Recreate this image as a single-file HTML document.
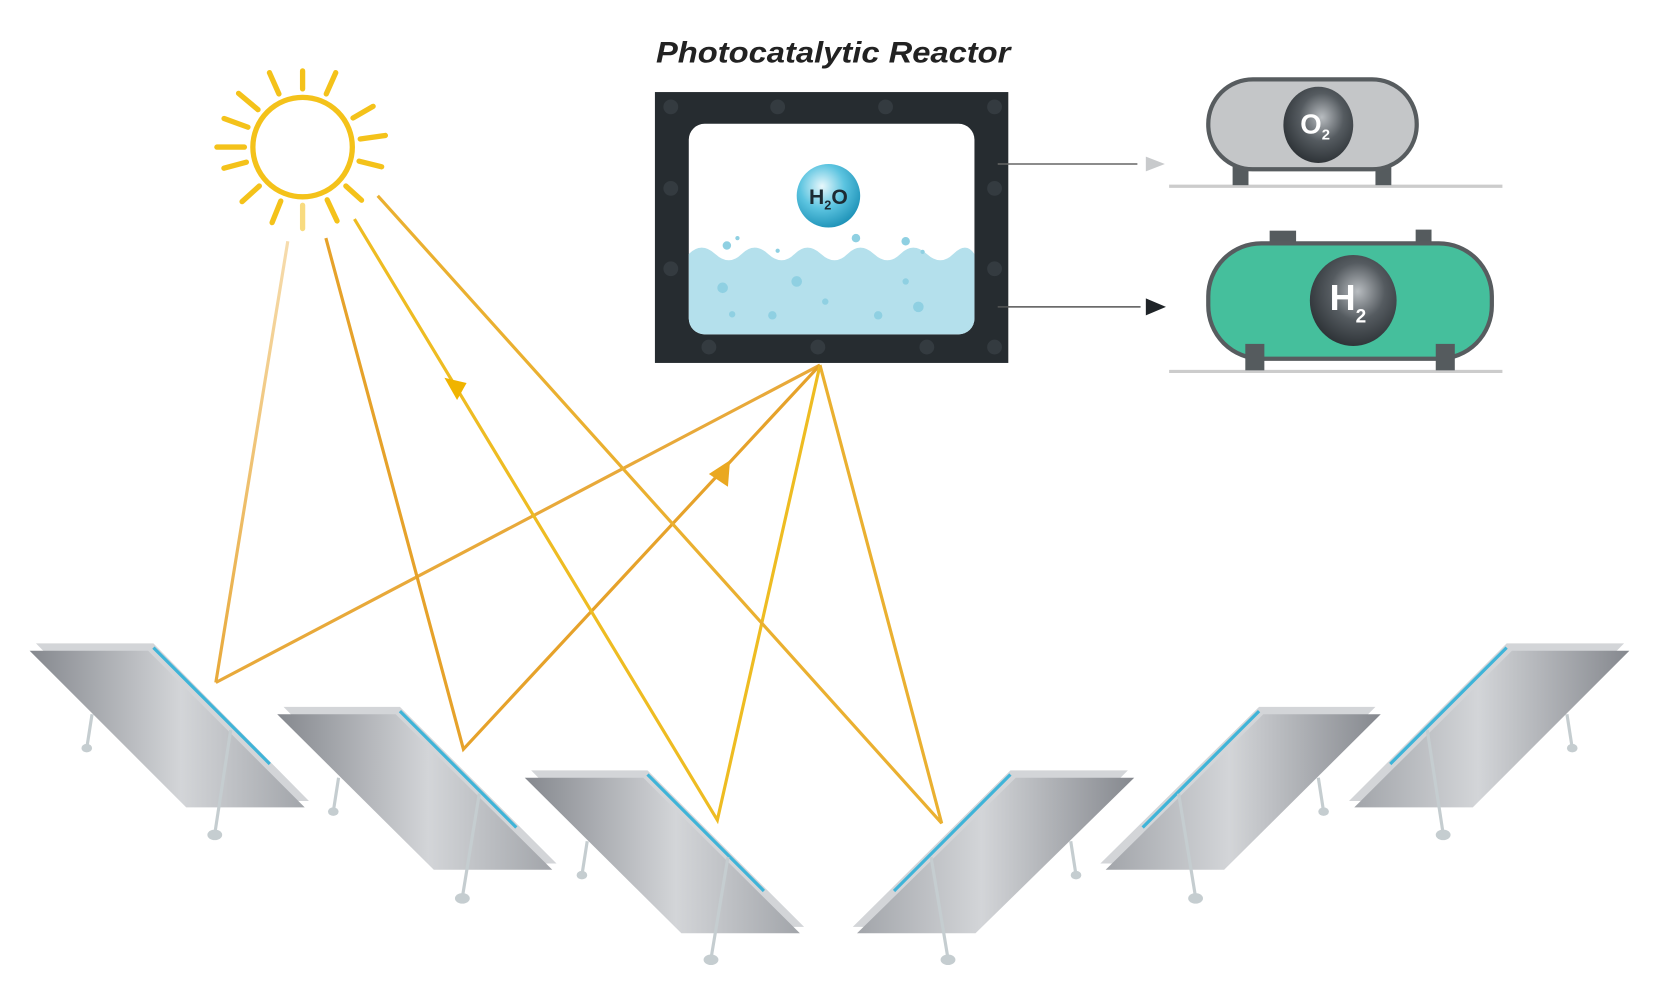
<!DOCTYPE html>
<html><head><meta charset="utf-8"><style>
html,body{margin:0;padding:0;background:#fff;width:1659px;height:1001px;overflow:hidden}
svg{display:block}
</style></head><body>
<svg width="1659" height="1001" viewBox="0 0 1568 946" preserveAspectRatio="none" xmlns="http://www.w3.org/2000/svg">
<defs>
<linearGradient id="pg" x1="0" y1="0" x2="1" y2="0">
<stop offset="0" stop-color="#85888e"/><stop offset="0.55" stop-color="#d3d5d8"/><stop offset="1" stop-color="#a2a5aa"/>
</linearGradient>
<linearGradient id="pg2" x1="1" y1="0" x2="0" y2="0">
<stop offset="0" stop-color="#85888e"/><stop offset="0.55" stop-color="#d3d5d8"/><stop offset="1" stop-color="#a2a5aa"/>
</linearGradient>
<radialGradient id="h2o" cx="0.4" cy="0.35" r="0.7"><stop offset="0" stop-color="#e8f8fc"/><stop offset="0.5" stop-color="#5cc4e0"/><stop offset="1" stop-color="#1a8fb5"/></radialGradient>
<radialGradient id="dk" cx="0.55" cy="0.4" r="0.7"><stop offset="0" stop-color="#b8bcc0"/><stop offset="0.45" stop-color="#555b60"/><stop offset="1" stop-color="#22272b"/></radialGradient>
<linearGradient id="r1" x1="0" y1="0" x2="0" y2="1"><stop offset="0" stop-color="#f6dcae"/><stop offset="1" stop-color="#e8a93a"/></linearGradient>
</defs>

<!-- sun -->
<g stroke="#f4c21a" stroke-linecap="round" fill="none">
<circle cx="286" cy="139" r="47" stroke-width="5"/>
<g stroke-width="5">
<line x1="286" y1="84" x2="286" y2="67" transform="rotate(0 286 139)"/>
<line x1="286" y1="84" x2="286" y2="62" transform="rotate(24 286 139)"/>
<line x1="286" y1="84" x2="286" y2="62" transform="rotate(-24 286 139)"/>
<line x1="286" y1="84" x2="286" y2="60" transform="rotate(-50 286 139)"/>
<line x1="286" y1="84" x2="286" y2="62" transform="rotate(60 286 139)"/>
<line x1="286" y1="84" x2="286" y2="60" transform="rotate(-70 286 139)"/>
<line x1="286" y1="84" x2="286" y2="60" transform="rotate(82 286 139)"/>
<line x1="286" y1="84" x2="286" y2="58" transform="rotate(-90 286 139)"/>
<line x1="286" y1="84" x2="286" y2="62" transform="rotate(104 286 139)"/>
<line x1="286" y1="84" x2="286" y2="62" transform="rotate(-105 286 139)"/>
<line x1="286" y1="84" x2="286" y2="64" transform="rotate(132 286 139)"/>
<line x1="286" y1="84" x2="286" y2="62" transform="rotate(-132 286 139)"/>
<line x1="286" y1="84" x2="286" y2="62" transform="rotate(155 286 139)"/>
<line x1="286" y1="84" x2="286" y2="62" transform="rotate(-158 286 139)"/>
<line x1="286" y1="84" x2="286" y2="62" transform="rotate(180 286 139)" stroke="#f8db80"/>
</g></g>

<!-- title -->
<text x="620" y="59" textLength="335" lengthAdjust="spacingAndGlyphs" font-family="Liberation Sans, sans-serif" font-size="28" font-weight="bold" font-style="italic" fill="#222">Photocatalytic Reactor</text>

<!-- panels left -->
<g>
<polygon points="34,608 145,608 292,757 180,757" fill="#d3d5d8"/>
<polygon points="28,615 140,615 288,763 176,763" fill="url(#pg)"/>
<line x1="145" y1="612" x2="255" y2="722" stroke="#3fb4d8" stroke-width="3"/>
<line x1="87" y1="675" x2="82" y2="707" stroke="#c5cdd0" stroke-width="3"/><ellipse cx="82" cy="707" rx="5" ry="4" fill="#c5cdd0"/>
<line x1="218" y1="690" x2="203" y2="788" stroke="#c5cdd0" stroke-width="3"/><ellipse cx="203" cy="789" rx="7" ry="5" fill="#c5cdd0"/>

<polygon points="268,668 378,668 526,816 414,816" fill="#d3d5d8"/>
<polygon points="262,675 374,675 522,822 410,822" fill="url(#pg)"/>
<line x1="378" y1="672" x2="488" y2="782" stroke="#3fb4d8" stroke-width="3"/>
<line x1="320" y1="735" x2="315" y2="767" stroke="#c5cdd0" stroke-width="3"/><ellipse cx="315" cy="767" rx="5" ry="4" fill="#c5cdd0"/>
<line x1="453" y1="750" x2="437" y2="848" stroke="#c5cdd0" stroke-width="3"/><ellipse cx="437" cy="849" rx="7" ry="5" fill="#c5cdd0"/>

<polygon points="502,728 612,728 760,876 648,876" fill="#d3d5d8"/>
<polygon points="496,735 608,735 756,882 644,882" fill="url(#pg)"/>
<line x1="612" y1="732" x2="722" y2="842" stroke="#3fb4d8" stroke-width="3"/>
<line x1="555" y1="795" x2="550" y2="827" stroke="#c5cdd0" stroke-width="3"/><ellipse cx="550" cy="827" rx="5" ry="4" fill="#c5cdd0"/>
<line x1="688" y1="810" x2="672" y2="906" stroke="#c5cdd0" stroke-width="3"/><ellipse cx="672" cy="907" rx="7" ry="5" fill="#c5cdd0"/>
</g>
<!-- panels right -->
<g>
<polygon points="955,728 1066,728 918,876 806,876" fill="#d3d5d8"/>
<polygon points="960,735 1072,735 922,882 810,882" fill="url(#pg2)"/>
<line x1="955" y1="732" x2="845" y2="842" stroke="#3fb4d8" stroke-width="3"/>
<line x1="1012" y1="795" x2="1017" y2="827" stroke="#c5cdd0" stroke-width="3"/><ellipse cx="1017" cy="827" rx="5" ry="4" fill="#c5cdd0"/>
<line x1="880" y1="810" x2="896" y2="906" stroke="#c5cdd0" stroke-width="3"/><ellipse cx="896" cy="907" rx="7" ry="5" fill="#c5cdd0"/>

<polygon points="1190,668 1300,668 1152,816 1040,816" fill="#d3d5d8"/>
<polygon points="1194,675 1305,675 1157,822 1045,822" fill="url(#pg2)"/>
<line x1="1190" y1="672" x2="1080" y2="782" stroke="#3fb4d8" stroke-width="3"/>
<line x1="1246" y1="735" x2="1251" y2="767" stroke="#c5cdd0" stroke-width="3"/><ellipse cx="1251" cy="767" rx="5" ry="4" fill="#c5cdd0"/>
<line x1="1114" y1="750" x2="1130" y2="848" stroke="#c5cdd0" stroke-width="3"/><ellipse cx="1130" cy="849" rx="7" ry="5" fill="#c5cdd0"/>

<polygon points="1424,608 1535,608 1387,757 1275,757" fill="#d3d5d8"/>
<polygon points="1429,615 1540,615 1392,763 1280,763" fill="url(#pg2)"/>
<line x1="1424" y1="612" x2="1314" y2="722" stroke="#3fb4d8" stroke-width="3"/>
<line x1="1481" y1="675" x2="1486" y2="707" stroke="#c5cdd0" stroke-width="3"/><ellipse cx="1486" cy="707" rx="5" ry="4" fill="#c5cdd0"/>
<line x1="1349" y1="690" x2="1364" y2="788" stroke="#c5cdd0" stroke-width="3"/><ellipse cx="1364" cy="789" rx="7" ry="5" fill="#c5cdd0"/>
</g>

<!-- rays -->
<g fill="none" stroke-width="3" stroke-linejoin="miter">
<polyline points="272,228 204,645" stroke="url(#r1)"/>
<polyline points="204,645 775,345" stroke="#e8a93a"/>
<polyline points="308,225 438,708 775,345" stroke="#e6a22a"/>
<polyline points="335,207 678,775 775,345" stroke="#eebc22"/>
<polyline points="357,185 890,778 775,345" stroke="#eab030"/>
</g>
<polygon points="420,357 441,362 432,378" fill="#f0b400"/>
<polygon points="690,435 670,448 688,460" fill="#eaa820"/>

<!-- reactor -->
<rect x="619" y="87" width="334" height="256" fill="#262c30"/>
<g fill="#343b40">
<circle cx="634" cy="101" r="7"/><circle cx="735" cy="101" r="7"/><circle cx="837" cy="101" r="7"/><circle cx="940" cy="101" r="7"/>
<circle cx="634" cy="178" r="7"/><circle cx="940" cy="178" r="7"/><circle cx="634" cy="254" r="7"/><circle cx="940" cy="254" r="7"/>
<circle cx="670" cy="328" r="7"/><circle cx="773" cy="328" r="7"/><circle cx="876" cy="328" r="7"/><circle cx="940" cy="328" r="7"/>
</g>
<rect x="651" y="117" width="270" height="199" rx="15" fill="#fff"/>
<path d="M651,240 q12,-12 25,0 t25,0 t25,0 t25,0 t25,0 t25,0 t25,0 t25,0 t25,0 t25,0 t20,0 V301 a15,15 0 0 1 -15,15 H666 a15,15 0 0 1 -15,-15 Z" fill="#b4e0ec"/>
<g fill="#8fd0e2">
<circle cx="683" cy="272" r="5"/><circle cx="753" cy="266" r="5"/><circle cx="730" cy="298" r="4"/><circle cx="856" cy="266" r="3"/><circle cx="868" cy="290" r="5"/><circle cx="692" cy="297" r="3"/><circle cx="830" cy="298" r="4"/><circle cx="780" cy="285" r="3"/>
<circle cx="809" cy="225" r="4"/><circle cx="856" cy="228" r="4"/><circle cx="687" cy="232" r="4"/><circle cx="735" cy="237" r="2"/><circle cx="697" cy="225" r="2"/><circle cx="872" cy="238" r="2"/>
</g>
<circle cx="783" cy="185" r="30" fill="url(#h2o)"/>
<text x="783" y="193" text-anchor="middle" font-family="Liberation Sans, sans-serif" font-size="20" font-weight="bold" fill="#1d2b33">H<tspan font-size="12" dy="5">2</tspan><tspan dy="-5">O</tspan></text>

<!-- arrows -->
<line x1="943" y1="155" x2="1075" y2="155" stroke="#666" stroke-width="1.5"/>
<polygon points="1083,148 1101,155 1083,162" fill="#c8cacc"/>
<line x1="943" y1="290" x2="1078" y2="290" stroke="#555" stroke-width="1.5"/>
<polygon points="1083,282 1102,290 1083,298" fill="#1f2428"/>

<!-- O2 tank -->
<line x1="1105" y1="176" x2="1420" y2="176" stroke="#ccc" stroke-width="3"/>
<rect x="1165" y="156" width="15" height="19" fill="#555b5e"/><rect x="1300" y="156" width="15" height="19" fill="#555b5e"/>
<rect x="1142" y="75" width="197" height="85" rx="42" fill="#c4c6c8" stroke="#575c5f" stroke-width="4"/>
<ellipse cx="1246" cy="118" rx="33" ry="36" fill="url(#dk)"/>
<text x="1243" y="126" text-anchor="middle" font-family="Liberation Sans, sans-serif" font-size="26" fill="#fff" font-weight="bold">O<tspan font-size="14" dy="6">2</tspan></text>

<!-- H2 tank -->
<line x1="1105" y1="351" x2="1420" y2="351" stroke="#ccc" stroke-width="3"/>
<rect x="1200" y="218" width="25" height="18" fill="#555b5e"/><rect x="1338" y="217" width="15" height="18" fill="#555b5e"/>
<rect x="1142" y="230" width="268" height="109" rx="50" fill="#45bf9c" stroke="#575c5f" stroke-width="4"/>
<rect x="1177" y="325" width="18" height="25" fill="#555b5e"/><rect x="1357" y="325" width="18" height="25" fill="#555b5e"/>
<ellipse cx="1279" cy="284" rx="41" ry="43" fill="url(#dk)"/>
<text x="1274" y="293" text-anchor="middle" font-family="Liberation Sans, sans-serif" font-size="34" fill="#fff" font-weight="bold">H<tspan font-size="18" dy="12">2</tspan></text>
</svg>
</body></html>
